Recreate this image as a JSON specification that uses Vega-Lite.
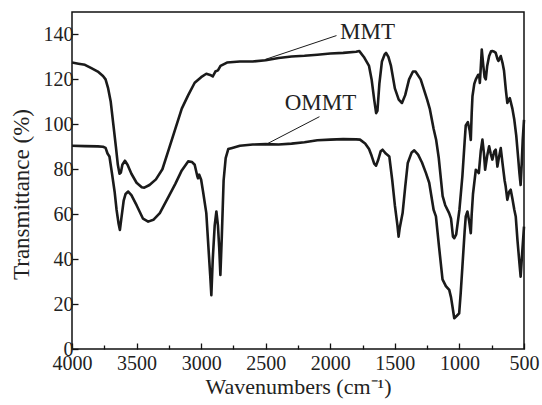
{
"$schema":"https://vega.github.io/schema/vega-lite/v6.json",
"width":452,"height":337,"autosize":"none",
"padding":{"left":72,"top":12,"right":18,"bottom":56},
"config":{"view":{"stroke":"#111","strokeWidth":1.5},"font":"Liberation Serif",
 "axis":{"domain":false,"grid":false,"tickColor":"#111","tickWidth":1.3,"labelFont":"Liberation Serif","labelFontSize":20,"labelColor":"#222","titleFont":"Liberation Serif","titleFontSize":22,"titleFontWeight":"normal","titleColor":"#222"}},
"datasets":{
"spectra":[
{"s":"MMT","w":4000,"t":127.5},{"s":"MMT","w":3950,"t":127},{"s":"MMT","w":3900,"t":126.5},{"s":"MMT","w":3850,"t":125},{"s":"MMT","w":3800,"t":123.5},{"s":"MMT","w":3760,"t":121.5},{"s":"MMT","w":3740,"t":120},{"s":"MMT","w":3720,"t":116},{"s":"MMT","w":3700,"t":110},{"s":"MMT","w":3680,"t":100},{"s":"MMT","w":3660,"t":90},{"s":"MMT","w":3645,"t":82},{"s":"MMT","w":3632,"t":78},{"s":"MMT","w":3622,"t":78.5},{"s":"MMT","w":3610,"t":82},{"s":"MMT","w":3590,"t":83.8},{"s":"MMT","w":3570,"t":82},{"s":"MMT","w":3540,"t":78},{"s":"MMT","w":3500,"t":74},{"s":"MMT","w":3460,"t":72},{"s":"MMT","w":3440,"t":71.8},{"s":"MMT","w":3400,"t":73},{"s":"MMT","w":3350,"t":75.5},{"s":"MMT","w":3300,"t":80},{"s":"MMT","w":3250,"t":89},{"s":"MMT","w":3200,"t":98},{"s":"MMT","w":3150,"t":107},{"s":"MMT","w":3100,"t":113},{"s":"MMT","w":3050,"t":118.5},{"s":"MMT","w":3000,"t":121},{"s":"MMT","w":2960,"t":122.5},{"s":"MMT","w":2930,"t":122},{"s":"MMT","w":2910,"t":121.3},{"s":"MMT","w":2890,"t":123.5},{"s":"MMT","w":2870,"t":124},{"s":"MMT","w":2850,"t":126},{"s":"MMT","w":2800,"t":127.5},{"s":"MMT","w":2700,"t":128},{"s":"MMT","w":2600,"t":128},{"s":"MMT","w":2500,"t":128.5},{"s":"MMT","w":2400,"t":129.5},{"s":"MMT","w":2300,"t":130.2},{"s":"MMT","w":2200,"t":130.5},{"s":"MMT","w":2100,"t":131},{"s":"MMT","w":2000,"t":131.5},{"s":"MMT","w":1900,"t":131.8},{"s":"MMT","w":1800,"t":132.3},{"s":"MMT","w":1775,"t":132.6},{"s":"MMT","w":1740,"t":130},{"s":"MMT","w":1700,"t":126},{"s":"MMT","w":1680,"t":120},{"s":"MMT","w":1660,"t":111},{"s":"MMT","w":1645,"t":105},{"s":"MMT","w":1635,"t":106},{"s":"MMT","w":1620,"t":118},{"s":"MMT","w":1600,"t":128},{"s":"MMT","w":1580,"t":131},{"s":"MMT","w":1568,"t":131.8},{"s":"MMT","w":1550,"t":130},{"s":"MMT","w":1530,"t":126},{"s":"MMT","w":1500,"t":116},{"s":"MMT","w":1470,"t":111},{"s":"MMT","w":1445,"t":109.5},{"s":"MMT","w":1420,"t":113},{"s":"MMT","w":1390,"t":120},{"s":"MMT","w":1360,"t":123.5},{"s":"MMT","w":1340,"t":123.5},{"s":"MMT","w":1300,"t":120},{"s":"MMT","w":1250,"t":111},{"s":"MMT","w":1230,"t":107},{"s":"MMT","w":1200,"t":98},{"s":"MMT","w":1180,"t":93},{"s":"MMT","w":1160,"t":85},{"s":"MMT","w":1130,"t":68},{"s":"MMT","w":1110,"t":64},{"s":"MMT","w":1080,"t":60.5},{"s":"MMT","w":1065,"t":58},{"s":"MMT","w":1050,"t":50},{"s":"MMT","w":1040,"t":49.3},{"s":"MMT","w":1025,"t":51},{"s":"MMT","w":1000,"t":62},{"s":"MMT","w":977,"t":77},{"s":"MMT","w":960,"t":92},{"s":"MMT","w":951,"t":99.5},{"s":"MMT","w":935,"t":101},{"s":"MMT","w":920,"t":97},{"s":"MMT","w":912,"t":93},{"s":"MMT","w":905,"t":105},{"s":"MMT","w":899,"t":112.5},{"s":"MMT","w":885,"t":118},{"s":"MMT","w":873,"t":120},{"s":"MMT","w":855,"t":122},{"s":"MMT","w":847,"t":122},{"s":"MMT","w":842,"t":118.4},{"s":"MMT","w":835,"t":125},{"s":"MMT","w":827,"t":133.3},{"s":"MMT","w":815,"t":126},{"s":"MMT","w":805,"t":121},{"s":"MMT","w":796,"t":120},{"s":"MMT","w":785,"t":126},{"s":"MMT","w":770,"t":130.4},{"s":"MMT","w":755,"t":132.5},{"s":"MMT","w":745,"t":132.6},{"s":"MMT","w":730,"t":132.3},{"s":"MMT","w":719,"t":131.8},{"s":"MMT","w":705,"t":129},{"s":"MMT","w":698,"t":128.2},{"s":"MMT","w":680,"t":130.4},{"s":"MMT","w":665,"t":127},{"s":"MMT","w":655,"t":124},{"s":"MMT","w":640,"t":115},{"s":"MMT","w":629,"t":109.5},{"s":"MMT","w":610,"t":111.7},{"s":"MMT","w":590,"t":107},{"s":"MMT","w":575,"t":102},{"s":"MMT","w":560,"t":95},{"s":"MMT","w":545,"t":85},{"s":"MMT","w":535,"t":78},{"s":"MMT","w":526,"t":73},{"s":"MMT","w":518,"t":82},{"s":"MMT","w":510,"t":93},{"s":"MMT","w":500,"t":102},
{"s":"OMMT","w":4000,"t":90.5},{"s":"OMMT","w":3900,"t":90.3},{"s":"OMMT","w":3800,"t":90.2},{"s":"OMMT","w":3760,"t":90},{"s":"OMMT","w":3740,"t":89.5},{"s":"OMMT","w":3725,"t":87},{"s":"OMMT","w":3710,"t":85.7},{"s":"OMMT","w":3690,"t":78},{"s":"OMMT","w":3670,"t":70},{"s":"OMMT","w":3655,"t":62},{"s":"OMMT","w":3640,"t":56},{"s":"OMMT","w":3629,"t":53},{"s":"OMMT","w":3618,"t":58},{"s":"OMMT","w":3600,"t":66},{"s":"OMMT","w":3585,"t":69},{"s":"OMMT","w":3565,"t":70.1},{"s":"OMMT","w":3540,"t":68.5},{"s":"OMMT","w":3500,"t":64},{"s":"OMMT","w":3450,"t":58},{"s":"OMMT","w":3410,"t":56.7},{"s":"OMMT","w":3370,"t":57.5},{"s":"OMMT","w":3320,"t":60.5},{"s":"OMMT","w":3250,"t":68},{"s":"OMMT","w":3200,"t":73.5},{"s":"OMMT","w":3150,"t":79.5},{"s":"OMMT","w":3101,"t":83.5},{"s":"OMMT","w":3070,"t":83.2},{"s":"OMMT","w":3050,"t":82},{"s":"OMMT","w":3030,"t":77},{"s":"OMMT","w":3024,"t":76},{"s":"OMMT","w":3015,"t":77.6},{"s":"OMMT","w":3000,"t":75.3},{"s":"OMMT","w":2985,"t":70},{"s":"OMMT","w":2960,"t":60.5},{"s":"OMMT","w":2940,"t":42},{"s":"OMMT","w":2930,"t":33},{"s":"OMMT","w":2921,"t":24},{"s":"OMMT","w":2910,"t":40},{"s":"OMMT","w":2895,"t":55},{"s":"OMMT","w":2882,"t":61.2},{"s":"OMMT","w":2870,"t":55},{"s":"OMMT","w":2860,"t":45},{"s":"OMMT","w":2851,"t":33},{"s":"OMMT","w":2840,"t":50},{"s":"OMMT","w":2826,"t":75},{"s":"OMMT","w":2810,"t":85},{"s":"OMMT","w":2790,"t":89},{"s":"OMMT","w":2766,"t":89.4},{"s":"OMMT","w":2700,"t":90.5},{"s":"OMMT","w":2600,"t":91},{"s":"OMMT","w":2500,"t":91.2},{"s":"OMMT","w":2400,"t":91},{"s":"OMMT","w":2300,"t":91.4},{"s":"OMMT","w":2200,"t":92},{"s":"OMMT","w":2100,"t":92.9},{"s":"OMMT","w":2000,"t":93.2},{"s":"OMMT","w":1900,"t":93.4},{"s":"OMMT","w":1800,"t":93.3},{"s":"OMMT","w":1770,"t":93.2},{"s":"OMMT","w":1730,"t":91.5},{"s":"OMMT","w":1700,"t":89},{"s":"OMMT","w":1680,"t":86},{"s":"OMMT","w":1660,"t":82.5},{"s":"OMMT","w":1646,"t":81.6},{"s":"OMMT","w":1630,"t":84},{"s":"OMMT","w":1610,"t":88},{"s":"OMMT","w":1595,"t":88.7},{"s":"OMMT","w":1570,"t":87},{"s":"OMMT","w":1543,"t":85.7},{"s":"OMMT","w":1520,"t":75},{"s":"OMMT","w":1500,"t":64},{"s":"OMMT","w":1480,"t":55},{"s":"OMMT","w":1471,"t":50},{"s":"OMMT","w":1462,"t":54},{"s":"OMMT","w":1440,"t":60.5},{"s":"OMMT","w":1420,"t":72},{"s":"OMMT","w":1400,"t":82.8},{"s":"OMMT","w":1370,"t":87.5},{"s":"OMMT","w":1350,"t":88.4},{"s":"OMMT","w":1320,"t":86.5},{"s":"OMMT","w":1290,"t":83},{"s":"OMMT","w":1259,"t":78.3},{"s":"OMMT","w":1234,"t":74},{"s":"OMMT","w":1200,"t":62},{"s":"OMMT","w":1182,"t":59},{"s":"OMMT","w":1157,"t":45},{"s":"OMMT","w":1131,"t":31},{"s":"OMMT","w":1105,"t":28},{"s":"OMMT","w":1079,"t":26.3},{"s":"OMMT","w":1065,"t":23},{"s":"OMMT","w":1054,"t":18.9},{"s":"OMMT","w":1040,"t":13.7},{"s":"OMMT","w":1020,"t":14.8},{"s":"OMMT","w":1002,"t":15.9},{"s":"OMMT","w":990,"t":25},{"s":"OMMT","w":977,"t":36.7},{"s":"OMMT","w":960,"t":52},{"s":"OMMT","w":951,"t":59},{"s":"OMMT","w":938,"t":61.2},{"s":"OMMT","w":925,"t":57},{"s":"OMMT","w":912,"t":51.5},{"s":"OMMT","w":905,"t":60},{"s":"OMMT","w":895,"t":69},{"s":"OMMT","w":873,"t":79.8},{"s":"OMMT","w":860,"t":79},{"s":"OMMT","w":850,"t":78.3},{"s":"OMMT","w":835,"t":88},{"s":"OMMT","w":822,"t":93.2},{"s":"OMMT","w":810,"t":87},{"s":"OMMT","w":801,"t":79.8},{"s":"OMMT","w":785,"t":86},{"s":"OMMT","w":770,"t":90.2},{"s":"OMMT","w":758,"t":87},{"s":"OMMT","w":745,"t":84.3},{"s":"OMMT","w":730,"t":88},{"s":"OMMT","w":719,"t":88.7},{"s":"OMMT","w":706,"t":81.2},{"s":"OMMT","w":695,"t":85},{"s":"OMMT","w":680,"t":89.4},{"s":"OMMT","w":665,"t":82},{"s":"OMMT","w":650,"t":75},{"s":"OMMT","w":642,"t":72.4},{"s":"OMMT","w":629,"t":66.4},{"s":"OMMT","w":615,"t":70},{"s":"OMMT","w":603,"t":70.9},{"s":"OMMT","w":590,"t":67},{"s":"OMMT","w":575,"t":62},{"s":"OMMT","w":564,"t":59},{"s":"OMMT","w":550,"t":48},{"s":"OMMT","w":535,"t":38},{"s":"OMMT","w":526,"t":32.2},{"s":"OMMT","w":515,"t":42},{"s":"OMMT","w":500,"t":54.5}
],
"leaders":[
{"g":"MMT","w":2508,"t":128.8},{"g":"MMT","w":1952,"t":139.5},
{"g":"OMMT","w":2500,"t":91},{"g":"OMMT","w":2084,"t":103.4}
],
"labels":[
{"label":"MMT","w":1712,"t":140.9},
{"label":"OMMT","w":2076,"t":109.7}
]
},
"layer":[
{"data":{"name":"spectra"},
 "mark":{"type":"line","color":"#1a1a1a","strokeWidth":2.6,"strokeJoin":"round"},
 "encoding":{
  "x":{"field":"w","type":"quantitative","scale":{"domain":[500,4000],"reverse":true,"nice":false,"zero":false},
   "axis":{"orient":"bottom","values":[4000,3500,3000,2500,2000,1500,1000,500],"format":"d","tickSize":-6,"labelPadding":10,"labelFlush":false,"title":"Wavenumbers (cm⁻¹)","titlePadding":3}},
  "y":{"field":"t","type":"quantitative","scale":{"domain":[0,150],"nice":false,"zero":true},
   "axis":{"values":[0,20,40,60,80,100,120,140],"format":"d","tickSize":-6,"labelPadding":5,"title":"Transmittance (%)","titleFontSize":23,"titlePadding":10,"titleY":182}},
  "detail":{"field":"s"}}},
{"data":{"name":"leaders"},
 "mark":{"type":"line","color":"#1a1a1a","strokeWidth":1},
 "encoding":{
  "x":{"field":"w","type":"quantitative",
   "axis":{"orient":"bottom","values":[3750,3250,2750,2250,1750,1250,750],"tickSize":-4,"labels":false,"title":null}},
  "y":{"field":"t","type":"quantitative"},
  "detail":{"field":"g"}}},
{"data":{"name":"labels"},
 "mark":{"type":"text","font":"Liberation Serif","fontSize":23,"color":"#222"},
 "encoding":{
  "x":{"field":"w","type":"quantitative","axis":null},
  "y":{"field":"t","type":"quantitative"},
  "text":{"field":"label"}}}
],
"resolve":{"axis":{"x":"independent"}}
}
